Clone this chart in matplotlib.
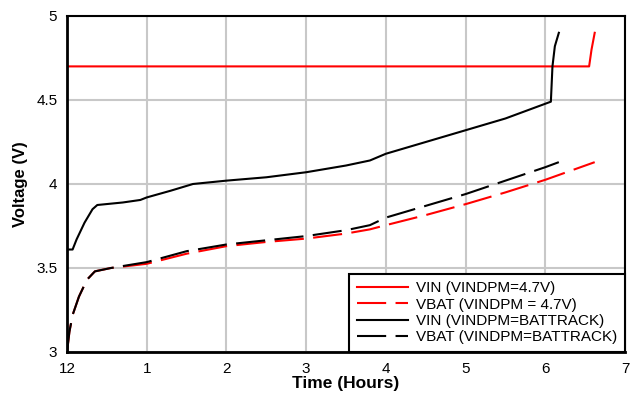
import matplotlib.pyplot as plt

plt.rcParams["font.family"] = ["Liberation Sans", "DejaVu Sans"]

# VIN, VINDPM = 4.7 V
vin_47_t = [0.0, 6.55, 6.58, 6.62]
vin_47_v = [4.70, 4.70, 4.80, 4.90]

# VBAT, VINDPM = 4.7 V
vbat_47_t = [0.0, 0.03, 0.07, 0.15, 0.25, 0.35, 0.55, 1.0, 1.5, 2.0, 2.5, 3.0, 3.5, 3.8, 4.0, 4.5, 5.0, 5.5, 6.0, 6.62]
vbat_47_v = [3.0, 3.12, 3.22, 3.33, 3.43, 3.48, 3.50, 3.525, 3.585, 3.63, 3.655, 3.675, 3.705, 3.73, 3.755, 3.815, 3.88, 3.95, 4.025, 4.13]

# VIN, VINDPM = BATTRACK
vin_bt_t = [0.0, 0.07, 0.12, 0.17, 0.22, 0.27, 0.32, 0.38, 0.7, 0.92, 1.0, 1.3, 1.58, 2.0, 2.5, 3.0, 3.5, 3.8, 4.0, 4.5, 5.0, 5.5, 6.07, 6.09, 6.12, 6.17]
vin_bt_v = [3.61, 3.61, 3.67, 3.72, 3.77, 3.81, 3.85, 3.875, 3.89, 3.905, 3.92, 3.96, 4.0, 4.02, 4.04, 4.07, 4.11, 4.14, 4.18, 4.25, 4.32, 4.39, 4.49, 4.70, 4.82, 4.90]

# VBAT, VINDPM = BATTRACK
vbat_bt_t = [0.0, 0.03, 0.07, 0.15, 0.25, 0.35, 0.55, 1.0, 1.5, 2.0, 2.5, 3.0, 3.5, 3.8, 4.0, 4.5, 5.0, 5.5, 6.0, 6.17]
vbat_bt_v = [3.0, 3.12, 3.22, 3.33, 3.43, 3.48, 3.50, 3.535, 3.60, 3.64, 3.665, 3.69, 3.725, 3.755, 3.80, 3.87, 3.94, 4.02, 4.10, 4.13]

x_ticks = [0, 1, 2, 3, 4, 5, 6, 7]
x_tick_labels = ["12", "1", "2", "3", "4", "5", "6", "7"]
y_ticks = [3, 3.5, 4, 4.5, 5]
y_tick_labels = ["3", "3.5", "4", "4.5", "5"]

fig = plt.figure(figsize=(6.34, 3.94), dpi=100)
ax = fig.add_axes([0.1057, 0.1066, 0.8801, 0.8528])

dash = (0, (14, 4.5))
ax.plot(vin_47_t, vin_47_v, color="red", linewidth=1.5, label="VIN (VINDPM=4.7V)")
ax.plot(vbat_47_t, vbat_47_v, color="red", linewidth=1.5, linestyle=dash, label="VBAT (VINDPM = 4.7V)")
ax.plot(vin_bt_t, vin_bt_v, color="black", linewidth=1.5, label="VIN (VINDPM=BATTRACK)")
ax.plot(vbat_bt_t, vbat_bt_v, color="black", linewidth=1.5, linestyle=dash, label="VBAT (VINDPM=BATTRACK)")

ax.set_xlim(0, 7)
ax.set_ylim(3, 5)
ax.set_xticks(x_ticks)
ax.set_xticklabels(x_tick_labels)
ax.set_yticks(y_ticks)
ax.set_yticklabels(y_tick_labels)
ax.tick_params(length=0, labelsize=11, pad=7)
ax.grid(True, color="#c8c8c8", linewidth=1.5)
ax.set_axisbelow(True)

for side in ["left", "bottom"]:
    ax.spines[side].set_linewidth(2)
for side in ["top", "right"]:
    ax.spines[side].set_linewidth(1.5)

ax.set_xlabel("Time (Hours)", fontsize=12.5, fontweight="bold", labelpad=0)
ax.set_ylabel("Voltage (V)", fontsize=12, fontweight="bold", labelpad=6)

leg = ax.legend(loc="lower right", fontsize=11, handlelength=3.4, handletextpad=0.5,
                labelspacing=0.15, borderaxespad=0, fancybox=False, framealpha=1,
                edgecolor="black", borderpad=0.5)
leg.get_frame().set_linewidth(1.5)

fig.savefig("out.png", dpi=100)
